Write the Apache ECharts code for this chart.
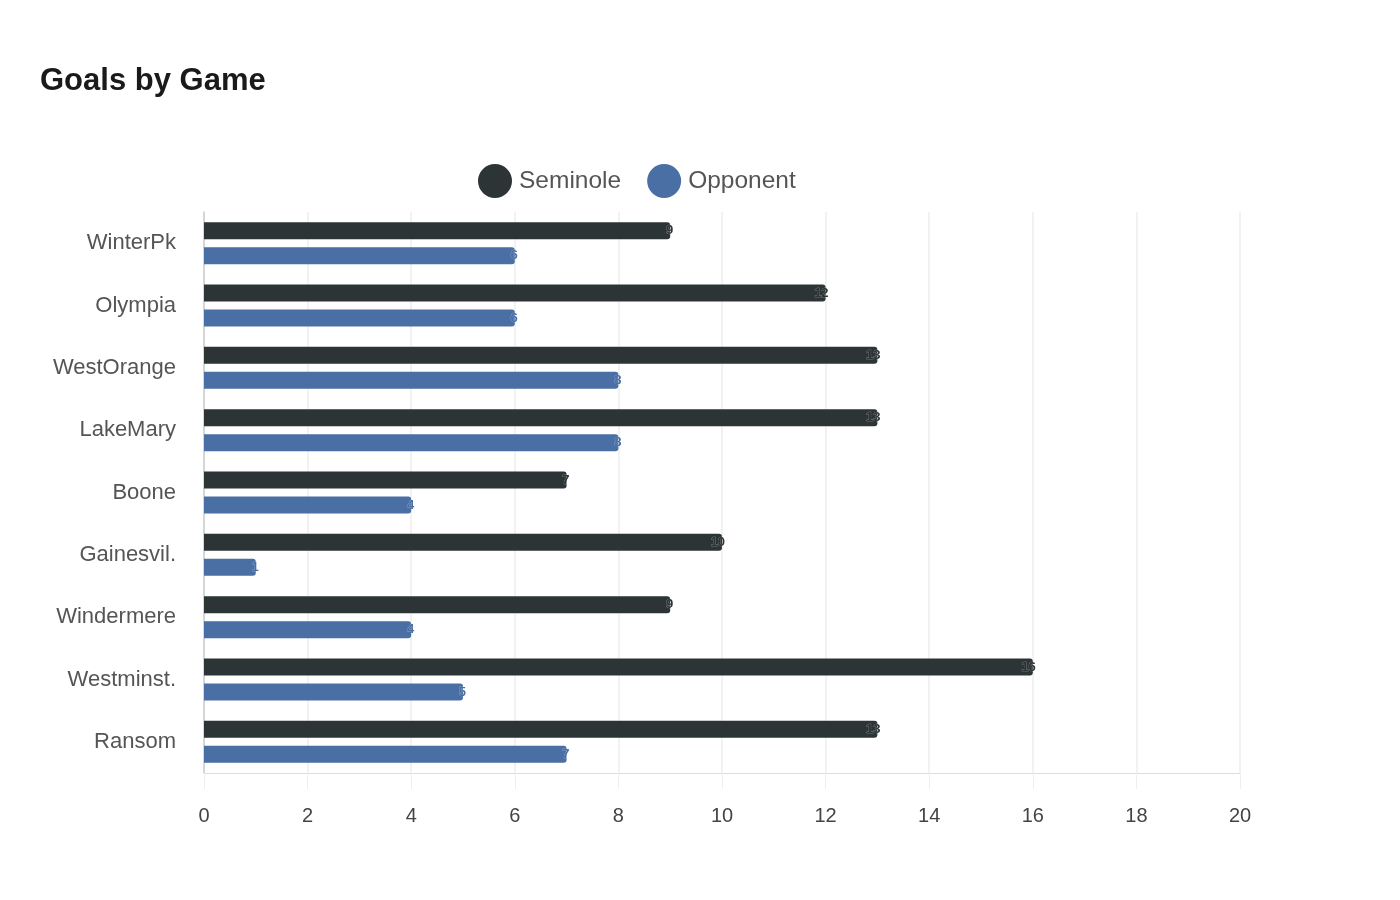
<!DOCTYPE html>
<html>
<head>
<meta charset="utf-8">
<script src="https://cdn.jsdelivr.net/npm/echarts@6/dist/echarts.min.js"></script>
<style>html,body{margin:0;padding:0;background:#fff;}#c{width:1400px;height:900px;}</style>
</head>
<body>
<div id="c"></div>
<script>
const categories = ['WinterPk','Olympia','WestOrange','LakeMary','Boone','Gainesvil.','Windermere','Westminst.','Ransom'];
const seminole = [9,12,13,13,7,10,9,16,13];
const opponent = [6,6,8,8,4,1,4,5,7];
const seriesNames = ['Seminole','Opponent'];
const colors = ['#2d3436','#4a6fa5'];

const chart = echarts.init(document.getElementById('c'));
function lbl(color){
  return {show:true, position:'insideRight', distance:-3, color:color, fontSize:13, fontWeight:'bold',
          fontFamily:'Liberation Sans, Arial, sans-serif', textBorderColor:'rgba(255,255,255,0.5)', textBorderWidth:0.5};
}
chart.setOption({
  animation:false,
  color: colors,
  textStyle:{fontFamily:'Liberation Sans, Arial, sans-serif'},
  title:{text:'Goals by Game', left:35, top:61, textStyle:{fontSize:31, fontWeight:'bold', color:'#1a1a1a', fontFamily:'Liberation Sans, Arial, sans-serif'}},
  legend:{data:seriesNames, left:473, top:159, icon:'circle', itemWidth:34, itemHeight:34, itemGap:26,
    textStyle:{fontSize:24.5, color:'#555', padding:[0,0,0,2]}},
  grid:{left:204, right:160, top:212, bottom:127},
  xAxis:{type:'value', min:0, max:20, interval:2,
    axisLine:{show:true, lineStyle:{color:'#ddd'}},
    axisTick:{show:true, length:16, lineStyle:{color:'#eee'}},
    axisLabel:{fontSize:20, color:'#444', margin:33},
    splitLine:{show:true, lineStyle:{color:'#eee', width:1.5}}},
  yAxis:{type:'category', data:categories, inverse:true,
    axisLine:{show:true, lineStyle:{color:'#ccc', width:1.5}},
    axisTick:{show:false},
    axisLabel:{fontSize:22, color:'#555', margin:28, padding:[8,0,0,0]}},
  series:[
    {name:seriesNames[0], type:'bar', data:seminole, barWidth:17, barGap:'47%',
      itemStyle:{color:colors[0], borderRadius:[0,3,3,0]}, label:lbl(colors[0])},
    {name:seriesNames[1], type:'bar', data:opponent, barWidth:17,
      itemStyle:{color:colors[1], borderRadius:[0,3,3,0]}, label:lbl(colors[1])}
  ]
});
</script>
</body>
</html>
